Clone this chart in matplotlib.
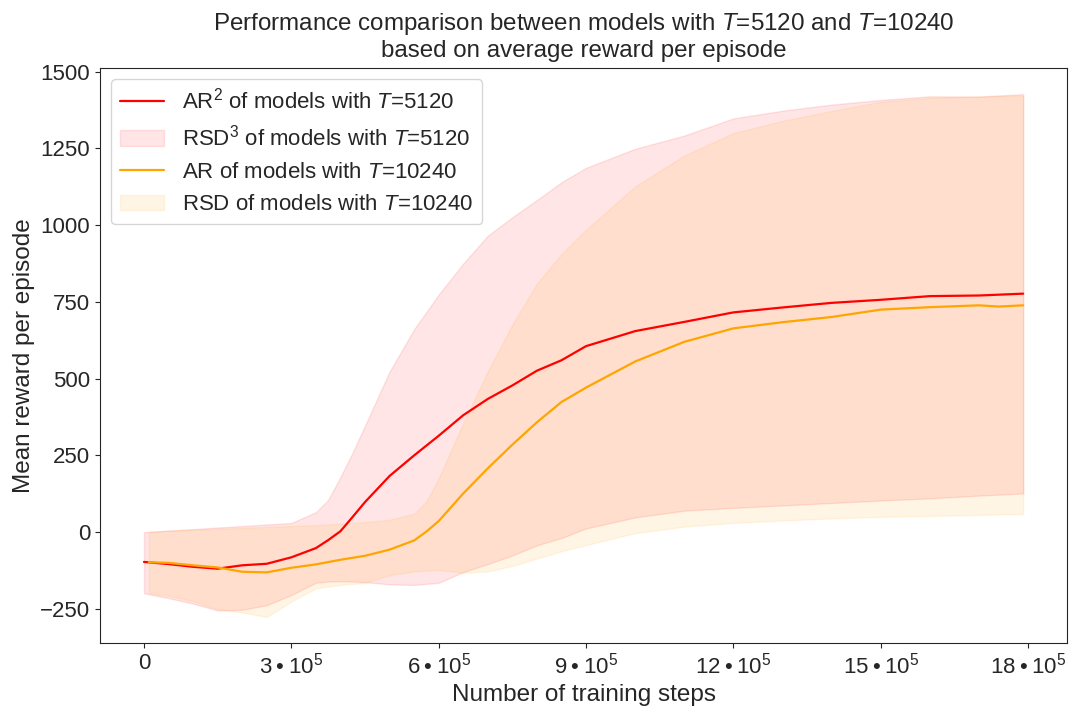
import matplotlib.pyplot as plt
import seaborn as sns
import numpy as np

sns.set_style('ticks')
plt.rcParams['font.family'] = ['Liberation Sans', 'DejaVu Sans']
plt.rcParams['mathtext.fontset'] = 'custom'
plt.rcParams['mathtext.rm'] = 'Liberation Sans'
plt.rcParams['mathtext.it'] = 'Liberation Sans:italic'

# training steps, in units of 1e5
steps_5120 = [0, 0.5, 1.0, 1.5, 2.0, 2.5, 3.0, 3.5, 3.75, 4.0, 4.25, 4.5, 5.0, 5.5, 6.0, 6.5, 7.0,
              7.5, 8.0, 8.5, 9.0, 10, 11, 12, 13, 14, 15, 16, 17, 17.9]
ar_5120 = [-97, -104, -113, -119, -108, -103, -82, -52, -26, 3, 50, 98, 183, 250, 314, 381, 434,
           478, 526, 560, 606, 655, 685, 716, 732, 747, 757, 769, 771, 777]
upper_5120 = [0, 5, 10, 15, 20, 25, 30, 65, 105, 180, 260, 347, 523, 661, 774, 875, 966,
              1026, 1082, 1140, 1187, 1249, 1292, 1348, 1373, 1393, 1408, 1420, 1419, 1427]
lower_5120 = [-199, -215, -233, -255, -253, -238, -205, -165, -161, -160, -161, -163, -170, -172, -165,
              -130, -104, -76, -43, -19, 12, 48, 70, 79, 87, 95, 103, 110, 119, 126]

steps_10240 = [0.1, 0.5, 1.0, 1.5, 2.0, 2.5, 3.0, 3.5, 4.0, 4.5, 5.0, 5.5, 5.75, 6.0, 6.5, 7.0,
               7.5, 8.0, 8.5, 9.0, 10, 11, 12, 13, 14, 15, 16, 17, 17.4, 17.9]
ar_10240 = [-98, -100, -108, -115, -129, -131, -116, -105, -90, -77, -57, -27, 2, 36, 126, 208,
            285, 358, 424, 471, 556, 620, 664, 684, 701, 725, 733, 739, 735, 739]
upper_10240 = [1, 5, 8, 11, 14, 17, 20, 23, 27, 33, 40, 60, 100, 175, 355, 524,
               676, 810, 906, 985, 1126, 1227, 1300, 1340, 1372, 1402, 1415, 1420, 1421, 1422]
lower_10240 = [-199, -207, -225, -251, -262, -276, -226, -183, -172, -165, -140, -128, -125, -123, -132,
               -128, -110, -86, -62, -42, -3, 18, 30, 38, 45, 50, 53, 56, 58, 59]

xtick_vals = [0, 3, 6, 9, 12, 15, 18]
xtick_labels = ['0'] + [f'{k}\u2009•\u2009$10^5$' for k in xtick_vals[1:]]
ytick_vals = [-250, 0, 250, 500, 750, 1000, 1250, 1500]

x1 = np.array(steps_5120) * 1e5
x2 = np.array(steps_10240) * 1e5

fig = plt.figure(figsize=(10.79, 7.19), dpi=100)
ax = fig.add_axes([0.0927, 0.1057, 0.8963, 0.7997])

ax.plot(x1, ar_5120, color='red', lw=1.6, label='AR$^2$ of models with $T$=5120')
ax.fill_between(x1, lower_5120, upper_5120, color='red', alpha=0.1,
                label='RSD$^3$ of models with $T$=5120')
ax.plot(x2, ar_10240, color='orange', lw=1.6, label='AR of models with $T$=10240')
ax.fill_between(x2, lower_10240, upper_10240, color='orange', alpha=0.1,
                label='RSD of models with $T$=10240')

ax.set_xticks(np.array(xtick_vals) * 1e5)
ax.set_xticklabels(xtick_labels)
ax.set_yticks(ytick_vals)
ax.tick_params(labelsize=16)
ax.set_xlabel('Number of training steps', fontsize=17.5)
ax.set_ylabel('Mean reward per episode', fontsize=17.5)
ax.set_title('Performance comparison between models with $T$=5120 and $T$=10240\n'
             'based on average reward per episode', fontsize=17.4, pad=8, linespacing=1.15)
ax.legend(loc='upper left', fontsize=16)

fig.savefig('out.png', dpi=100)
